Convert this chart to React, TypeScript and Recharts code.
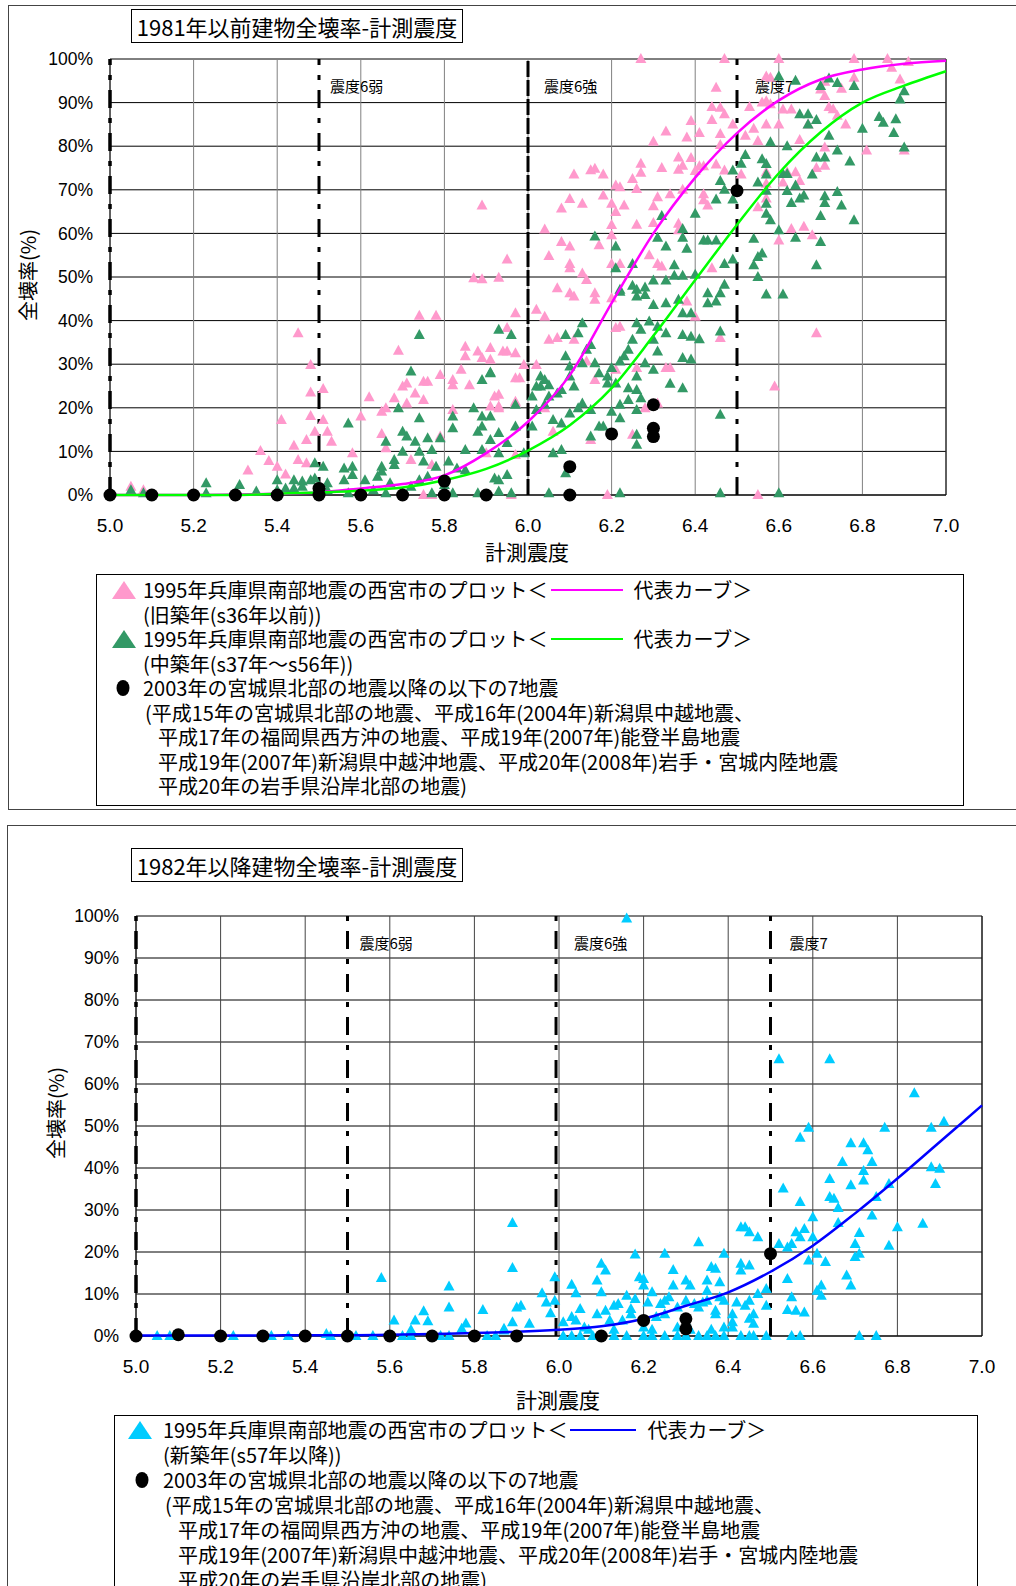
import React from 'react';
import { ScatterChart, Scatter, XAxis, YAxis, CartesianGrid, ReferenceLine } from 'recharts';

type Pt = [number, number];

const xTicks = [5.0, 5.2, 5.4, 5.6, 5.8, 6.0, 6.2, 6.4, 6.6, 6.8, 7.0];
const yTicks = [0, 10, 20, 30, 40, 50, 60, 70, 80, 90, 100];

// 1995 Nishinomiya plots, old buildings (before s36)
const oldPlot: Pt[] = [
  [5.45, 37.1], [5.48, 29.8], [5.48, 23.5], [5.51, 24.3], [5.48, 18.1], [5.51, 17.2], [5.49, 14.5], [5.52, 14.5],
  [5.53, 12.2], [5.47, 12.6], [5.41, 17.2], [5.44, 11.3], [5.45, 8.0], [5.47, 7.3], [5.42, 4.7], [5.36, 10.1],
  [5.38, 7.8], [5.4, 6.5], [5.33, 5.6], [5.58, 9.6], [5.62, 22.4], [5.6, 18.0], [5.65, 14.0], [5.66, 10.7],
  [5.65, 19.1], [5.66, 19.9], [5.69, 33.1], [5.7, 24.9], [5.71, 25.6], [5.68, 22.2], [5.71, 21.0], [5.73, 23.3],
  [5.74, 41.1], [5.78, 41.1], [5.75, 26.0], [5.76, 26.0], [5.79, 27.5], [5.75, 21.8], [5.79, 13.4], [5.82, 26.4],
  [5.82, 25.2], [5.85, 34.0], [5.85, 31.8], [5.86, 25.2], [5.88, 32.9], [5.89, 31.4], [5.91, 33.7], [5.91, 31.0],
  [5.84, 28.7], [5.94, 32.9], [5.95, 38.3], [5.97, 41.7], [5.93, 23.0], [5.91, 20.3], [5.93, 20.3], [5.97, 21.4],
  [5.82, 19.5], [5.05, 1.9], [5.08, 1.1], [5.75, 0], [5.77, 0], [5.96, 0], [5.72, 8.0], [5.9, 9.6], [5.77, 6.9],
  [5.89, 66.4], [5.87, 49.7], [5.89, 49.5], [5.93, 49.8], [5.95, 54.0],
  [6.02, 42.5], [6.04, 40.9], [6.07, 47.4], [6.1, 46.3], [6.11, 45.5], [6.16, 46.3], [6.16, 44.8], [6.2, 45.1],
  [6.21, 38.3], [6.07, 36.0], [6.05, 35.6], [6.11, 35.6], [5.95, 32.9], [5.97, 32.5], [5.99, 29.8], [6.02, 29.8],
  [5.97, 26.8], [5.98, 26.8], [5.92, 22.6], [5.93, 19.9], [5.97, 21.0], [6.04, 19.9], [6.06, 14.5], [6.14, 30.6],
  [6.16, 26.4], [6.21, 28.7], [6.26, 29.1], [6.28, 19.9], [6.31, 21.0], [6.33, 29.1], [6.34, 29.1], [6.25, 13.8],
  [6.15, 12.6], [5.97, 9.2], [6.38, 44.4], [6.4, 40.9], [6.46, 36.0], [6.22, 38.6], [6.69, 37.1], [6.59, 24.9],
  [6.55, 0], [6.19, 0],
  [6.27, 100], [6.47, 100], [6.6, 100], [6.78, 100], [6.86, 100], [6.91, 99.3], [6.87, 98], [6.89, 95.3],
  [6.78, 95.7], [6.71, 94.8], [6.71, 91.5], [6.7, 93], [6.75, 93.2], [6.45, 93.4], [6.57, 96], [6.58, 95.7],
  [6.57, 90.3], [6.56, 90], [6.58, 89.6], [6.53, 89], [6.61, 88.4], [6.63, 88.4], [6.44, 89], [6.46, 88.8],
  [6.47, 87.3], [6.44, 86], [6.49, 85], [6.39, 85.8], [6.72, 89], [6.73, 88.5], [6.74, 87], [6.76, 85],
  [6.57, 85], [6.6, 85], [6.67, 85], [6.41, 83], [6.46, 82.8], [6.54, 84], [6.52, 82.4], [6.33, 83.4],
  [6.38, 82], [6.3, 81], [6.46, 80.3], [6.55, 81.2], [6.65, 81.4], [6.81, 79], [6.71, 79.7], [6.71, 75.5],
  [6.69, 75], [6.36, 77.4], [6.37, 75.5], [6.39, 77.3], [6.27, 76], [6.32, 75], [6.27, 73.9], [6.36, 74.6],
  [6.41, 75.4], [6.42, 75.4], [6.4, 74.3], [6.45, 75.8], [6.51, 73.5], [6.47, 74.4], [6.11, 73.5], [6.15, 74.5],
  [6.16, 74.8], [6.18, 73.5], [6.25, 72.5], [6.21, 71], [6.22, 70.6], [6.26, 70.2], [6.18, 68.7], [6.1, 67.9],
  [6.13, 66.8], [6.08, 65.7], [6.2, 66.8], [6.23, 66.4], [6.21, 64.9], [6.3, 66.2], [6.31, 68.3], [6.34, 69],
  [6.37, 70], [6.42, 69], [6.42, 67.6], [6.43, 66.4], [6.2, 61.9], [6.2, 59.6], [6.26, 62], [6.3, 62.4],
  [6.36, 62.2], [6.36, 60.7], [6.04, 60.9], [6.08, 58], [6.1, 57], [6.17, 57.3], [6.05, 54.8], [6.1, 53],
  [6.1, 52], [6.13, 50.8], [6.14, 49.3], [6.2, 53], [6.22, 53], [6.29, 55], [6.31, 53], [6.32, 52.4],
  [6.44, 52], [6.6, 58.4], [6.63, 61], [6.66, 61.5], [6.68, 59.6], [6.9, 79], [6.57, 74], [6.57, 71.4],
  [6.62, 74], [6.64, 74], [6.65, 72], [6.61, 71.7], [6.55, 66], [6.57, 68],
];

// 1995 Nishinomiya plots, middle-age buildings (s37-s56)
const midPlot: Pt[] = [
  [5.74, 36.7], [5.93, 37.9], [5.96, 36.7], [5.72, 28.3], [5.69, 19.9], [5.74, 17.6], [5.57, 16.4], [5.7, 14.5],
  [5.71, 13.4], [5.66, 12.2], [5.7, 9.9], [5.68, 8.0], [5.68, 6.9], [5.65, 6.5], [5.65, 5.4], [5.64, 4.2],
  [5.56, 6.1], [5.58, 6.5], [5.58, 4.6], [5.56, 3.4], [5.61, 3.4], [5.73, 12.2], [5.76, 13.0], [5.79, 13.0],
  [5.74, 9.9], [5.77, 10.3], [5.75, 7.7], [5.78, 6.5], [5.76, 4.2], [5.74, 3.4], [5.82, 18.0], [5.82, 15.3],
  [5.87, 19.9], [5.89, 18.0], [5.89, 15.7], [5.88, 14.5], [5.91, 18.0], [5.89, 26.4], [5.91, 28.1], [5.81, 7.7],
  [5.83, 6.1], [5.85, 5.7], [5.85, 10.3], [5.89, 10.3], [5.91, 12.6], [5.93, 9.6], [5.93, 14.2], [5.92, 3.8],
  [5.97, 20.7], [5.97, 15.7], [5.95, 11.9], [5.49, 7.3], [5.51, 6.5], [5.49, 3.8], [5.44, 3.4], [5.46, 3.1],
  [5.48, 3.4], [5.46, 1.9], [5.44, 1.5], [5.42, 1.5], [5.4, 3.4], [5.4, 1.1], [5.35, 0.8], [5.31, 2.3],
  [5.23, 2.7], [5.23, 0.4], [5.05, 1.1], [5.08, 0.4], [5.52, 2.7], [5.52, 1.1], [5.66, 0.4], [5.7, 0.4],
  [5.77, 0.4], [5.82, 0.4], [5.88, 0.4], [5.57, 0.4], [5.63, 1.1], [5.67, 2.7], [5.72, 1.9], [5.8, 2.3],
  [6.43, 46.3], [6.43, 44.0], [6.45, 44.4], [6.46, 46.3], [6.47, 48.2], [6.46, 37.5], [6.41, 35.7], [6.39, 36.3],
  [6.37, 36.7], [6.37, 31.4], [6.39, 31.1], [6.34, 25.5], [6.37, 24.5], [6.39, 41.7], [6.37, 41.7], [6.36, 44.8],
  [6.33, 44.0], [6.3, 43.6], [6.28, 45.9], [6.26, 47.1], [6.26, 45.5], [6.22, 47.1], [6.29, 39.8], [6.26, 39.4],
  [6.31, 38.6], [6.33, 37.1], [6.3, 35.6], [6.27, 37.9], [6.25, 35.6], [6.24, 33.3], [6.23, 31.8], [6.22, 30.6],
  [6.2, 29.1], [6.19, 27.2], [6.21, 25.6], [6.19, 25.6], [6.17, 27.9], [6.16, 30.2], [6.13, 30.2], [6.14, 33.3],
  [6.15, 34.4], [6.13, 39.4], [6.12, 37.1], [6.09, 36.7], [6.09, 31.8], [6.1, 29.5], [6.1, 27.2], [6.11, 24.9],
  [6.08, 24.1], [6.07, 23.3], [6.05, 22.6], [6.04, 20.7], [6.05, 25.2], [6.04, 26.4], [6.03, 24.9], [6.03, 27.2],
  [6.02, 24.9], [6.01, 22.6], [6.02, 19.5], [6.01, 15.7], [6.06, 17.2], [6.08, 16.4], [6.1, 18.7], [6.12, 19.9],
  [6.13, 21.0], [6.15, 19.5], [6.17, 15.7], [6.18, 15.7], [6.2, 19.1], [6.22, 17.6], [6.22, 20.7], [6.24, 21.8],
  [6.24, 24.5], [6.26, 24.1], [6.26, 27.2], [6.28, 30.2], [6.31, 32.9], [6.3, 28.7], [6.27, 22.2], [6.26, 19.5],
  [6.26, 13.8], [6.26, 11.5], [6.15, 13.4], [6.08, 10.3], [6.06, 9.6], [5.99, 9.6], [5.93, 3.4], [5.95, 4.6],
  [5.93, 0.8], [5.96, 0.4], [6.05, 0.4], [6.22, 0.4], [6.46, 0.4], [6.6, 0.4], [6.09, 5.0], [6.46, 18.4],
  [5.91, 27.9],
  [6.6, 96], [6.64, 95], [6.72, 95.5], [6.74, 94.5], [6.78, 93.8], [6.7, 93.8], [6.9, 92.6], [6.89, 90.7],
  [6.65, 87.3], [6.67, 87.3], [6.69, 86], [6.67, 85], [6.84, 86.7], [6.85, 85.4], [6.88, 86.2], [6.8, 84],
  [6.875, 83], [6.72, 82.4], [6.58, 80.9], [6.62, 80], [6.74, 79], [6.9, 79.7], [6.52, 78], [6.56, 77],
  [6.57, 75.9], [6.69, 77.4], [6.71, 77.4], [6.77, 76.5], [6.51, 76], [6.49, 74.4], [6.57, 73.5], [6.61, 73.6],
  [6.62, 73.6], [6.68, 73.5], [6.46, 72], [6.55, 71.7], [6.47, 70], [6.49, 67.8], [6.45, 67.8], [6.57, 69.8],
  [6.62, 69.7], [6.64, 71], [6.63, 67], [6.65, 68], [6.66, 68.7], [6.71, 68.5], [6.74, 69.5], [6.71, 67],
  [6.75, 66.4], [6.7, 64], [6.78, 63], [6.57, 66.8], [6.57, 64.5], [6.58, 63], [6.32, 64], [6.4, 64.5],
  [6.37, 61], [6.37, 59], [6.31, 59], [6.33, 57], [6.38, 56.5], [6.42, 58.4], [6.43, 58.4], [6.45, 58.4],
  [6.6, 60.7], [6.64, 59], [6.7, 58], [6.54, 58.8], [6.16, 59.3], [6.21, 57], [6.25, 53], [6.35, 52.7],
  [6.47, 53], [6.49, 54], [6.54, 52.7], [6.55, 54.6], [6.56, 55.4], [6.69, 52.7], [6.55, 50], [6.57, 46],
  [6.61, 46], [6.21, 52], [6.22, 46.6], [6.25, 48], [6.28, 47.6], [6.3, 49.2], [6.33, 49.2], [6.35, 50.3],
  [6.37, 50.3], [6.4, 50.5],
];

// 1995 Nishinomiya plots, new buildings (s57 onward)
const newPlot: Pt[] = [
  [5.58, 13.8], [5.61, 3.7], [5.74, 6.8], [5.74, 11.8], [5.82, 6.2], [5.89, 26.9], [5.89, 16.2], [5.68, 5.9],
  [5.66, 3.7], [5.69, 3.5], [5.65, 1.4], [5.77, 1.7], [5.78, 3.0], [5.87, 1.7], [5.89, 3.3], [5.9, 6.8],
  [5.05, 0], [5.08, 0], [5.23, 0], [5.32, 0], [5.36, 0], [5.45, 0.5], [5.46, 0], [5.52, 0], [5.56, 0],
  [5.63, 0], [5.65, 0], [5.72, 0], [5.74, 0], [5.83, 0], [5.85, 0],
  [5.91, 7.2], [5.93, 2.9], [5.87, 1.3], [5.99, 14.0], [5.99, 8.4], [5.96, 10.2], [5.97, 8.0], [5.98, 5.4],
  [6.03, 12.2], [6.04, 10.2], [6.05, 6.4], [6.03, 4.5], [6.01, 3.3], [6.04, 3.7], [6.09, 13.2], [6.1, 17.2],
  [6.11, 15.6], [6.1, 10.4], [6.09, 5.2], [6.11, 6.0], [6.13, 7.2], [6.14, 7.6], [6.12, 3.7], [6.18, 19.4],
  [6.19, 14.0], [6.2, 13.6], [6.18, 8.8], [6.2, 12.0], [6.21, 8.0], [6.22, 10.4], [6.16, 9.6], [6.17, 6.4],
  [6.15, 3.7], [6.17, 5.2], [6.25, 19.6], [6.27, 15.7], [6.27, 12.0], [6.26, 9.2], [6.25, 8.4], [6.24, 7.6],
  [6.23, 4.5], [6.25, 5.2], [6.28, 6.8], [6.3, 13.2], [6.31, 12.0], [6.3, 8.4], [6.32, 7.6], [6.33, 22.3],
  [6.35, 13.2], [6.35, 10.8], [6.36, 16.4], [6.37, 16.0], [6.38, 12.8], [6.39, 19.6], [6.38, 9.2], [6.39, 8.4],
  [6.37, 6.0], [6.37, 5.2], [6.35, 8.4], [6.34, 8.0], [6.33, 6.8], [6.41, 5.2], [6.41, 3.3], [6.42, 8.0],
  [6.44, 7.2], [6.45, 8.4], [6.46, 5.2], [6.46, 2.9], [6.45, 4.1], [6.43, 17.2], [6.45, 16.8], [6.43, 15.6],
  [6.47, 10.0], [6.43, 25.9], [6.44, 25.9], [6.45, 24.7], [6.47, 23.5], [6.49, 11.2], [6.49, 7.2], [6.52, 21.9],
  [6.54, 13.6], [6.54, 21.1], [6.55, 21.9], [6.56, 24.7], [6.57, 23.5], [6.58, 25.5], [6.6, 28.3], [6.6, 23.5],
  [6.53, 35.1], [6.57, 47.2], [6.59, 49.6], [6.57, 31.9], [6.59, 18.0], [6.61, 19.6], [6.63, 17.6], [6.55, 9.2],
  [6.54, 6.2], [6.56, 6.0], [6.58, 5.6], [6.61, 10.8], [6.62, 12.0], [6.62, 9.6], [6.64, 37.4], [6.64, 33.1],
  [6.65, 32.7], [6.66, 30.5], [6.66, 26.9], [6.67, 41.4], [6.69, 35.9], [6.69, 45.9], [6.72, 45.9], [6.73, 44.2],
  [6.74, 41.4], [6.72, 39.3], [6.72, 37.0], [6.74, 28.7], [6.71, 24.5], [6.7, 21.9], [6.71, 19.6], [6.7, 18.8],
  [6.68, 14.4], [6.69, 12.0], [6.75, 33.1], [6.77, 49.6], [6.78, 36.2], [6.78, 21.5], [6.8, 25.9], [6.86, 26.7],
  [6.88, 40.2], [6.9, 39.8], [6.89, 36.2], [6.88, 49.6], [6.91, 51.0], [6.71, 0], [6.75, 0],
  [6.01, 0], [6.03, 0], [6.05, 0], [6.08, 0], [6.13, 0], [6.16, 0], [6.2, 0], [6.22, 0], [6.25, 0], [6.28, 0],
  [6.3, 0], [6.33, 0], [6.35, 0], [6.37, 0], [6.39, 0], [6.43, 0], [6.45, 0], [6.46, 0], [6.49, 0], [6.55, 0],
  [6.57, 0],
  [6.06, 2], [6.07, 1.5], [6.13, 1.5], [6.2, 2], [6.22, 1.5], [6.28, 2], [6.31, 1.5], [6.36, 1.5], [6.39, 2],
  [6.41, 2],
  [6.52, 65.9], [6.64, 65.9], [6.84, 57.8], [6.16, 99.4],
];

// 7 earthquakes since 2003
const recentOld: Pt[] = [
  [5.0, 0], [5.1, 0], [5.2, 0], [5.3, 0], [5.4, 0], [5.5, 0], [5.5, 1.5], [5.6, 0], [5.7, 0], [5.8, 0],
  [5.8, 3.2], [5.9, 0], [6.1, 0], [6.1, 6.5], [6.2, 14], [6.3, 13.4], [6.3, 15.3], [6.3, 20.7], [6.5, 69.8],
];
const recentNew: Pt[] = [
  [5.0, 0], [5.1, 0.3], [5.2, 0], [5.3, 0], [5.4, 0], [5.5, 0], [5.6, 0], [5.7, 0], [5.8, 0], [5.9, 0],
  [6.1, 0], [6.2, 3.7], [6.3, 4.1], [6.3, 1.7], [6.5, 19.6],
];

// representative curves
const oldCurve: Pt[] = [
  [5.0, 0], [5.1, 0], [5.2, 0], [5.3, 0.1], [5.4, 0.3], [5.5, 0.6], [5.6, 1.5], [5.7, 2.5], [5.8, 4.5],
  [5.9, 9.6], [6.0, 16.8], [6.1, 27.5], [6.2, 44], [6.3, 60], [6.4, 72.8], [6.5, 83], [6.6, 90.5],
  [6.7, 95.3], [6.8, 97.6], [6.9, 98.9], [7.0, 99.6],
];
const midCurve: Pt[] = [
  [5.0, 0], [5.1, 0], [5.2, 0], [5.3, 0], [5.4, 0.3], [5.5, 0.6], [5.6, 1], [5.7, 1.7], [5.8, 3.4],
  [5.9, 6], [6.0, 10.2], [6.1, 16], [6.2, 24.5], [6.3, 36.5], [6.4, 49.3], [6.5, 62], [6.6, 73.8],
  [6.7, 83.2], [6.8, 90], [6.9, 93.9], [7.0, 97.2],
];
const newCurve: Pt[] = [
  [5.0, 0.1], [5.1, 0.1], [5.2, 0.1], [5.3, 0.1], [5.4, 0.2], [5.5, 0.2], [5.6, 0.3], [5.7, 0.5], [5.8, 0.7],
  [5.9, 1.0], [6.0, 1.5], [6.1, 2.3], [6.2, 4.1], [6.3, 7.2], [6.4, 10.4], [6.5, 15.3], [6.6, 21.5],
  [6.7, 29.2], [6.8, 37.5], [6.9, 46.2], [7.0, 54.9],
];

const rows = (pts: Pt[]) => pts.map(([x, y]) => ({ x, y }));

const JP = '"Noto Sans CJK JP", sans-serif';
const LAT = '"Liberation Sans", Arial, sans-serif';
const DASH_DOT = '18 10 5 10';

const PINK = '#FF99CC';
const GREEN = '#339966';
const CYAN = '#00CCFF';

const tri = (fill: string) => (p: any) => (
  <polygon
    points={`${p.cx},${p.cy - 6} ${p.cx - 5.5},${p.cy + 4} ${p.cx + 5.5},${p.cy + 4}`}
    fill={fill}
  />
);
const dot = (p: any) => <circle cx={p.cx} cy={p.cy} r={6.5} fill="#000" />;
const noMark = () => <g />;

const zoneLabel = (text: string, dx: number) => (p: any) => (
  <text x={p.viewBox.x + dx} y={p.viewBox.y + 33} fontSize={15} fontFamily={JP} fill="#000">
    {text}
  </text>
);

type ChartProps = {
  top: number;
  height: number;
  plotTop: number;
  plotLeft: number;
  plotRight: number;
  plotBottom: number;
  vGrid: string;
  mid6: { x: number; dash: string };
  dx: [number, number, number];
  children: React.ReactNode;
};

const QuakeChart = ({ top, height, plotTop, plotLeft, plotRight, plotBottom, vGrid, mid6, dx, children }: ChartProps) => (
  <div style={{ position: 'absolute', left: 0, top }}>
    <ScatterChart
      width={1016}
      height={height}
      margin={{ top: plotTop, right: 1016 - plotRight, bottom: 0, left: 0 }}
    >
      <CartesianGrid vertical={false} stroke="#000" />
      <CartesianGrid horizontal={false} stroke={vGrid} />
      <XAxis
        type="number"
        dataKey="x"
        domain={[5, 7]}
        ticks={xTicks}
        interval={0}
        height={height - plotBottom}
        tickFormatter={(v: number) => v.toFixed(1)}
        tickLine={false}
        tickSize={8}
        tickMargin={16}
        axisLine={{ stroke: '#000' }}
        tick={{ fontSize: 19, fill: '#000', fontFamily: LAT }}
      />
      <YAxis
        type="number"
        dataKey="y"
        domain={[0, 100]}
        ticks={yTicks}
        interval={0}
        width={plotLeft}
        tickFormatter={(v: number) => `${v}%`}
        tickLine={false}
        tickSize={8}
        tickMargin={9}
        axisLine={{ stroke: '#000' }}
        tick={{ fontSize: 17.5, fill: '#000', fontFamily: LAT }}
      />
      <ReferenceLine x={7} stroke="#000" />
      <ReferenceLine x={5} stroke="#000" strokeWidth={3.5} strokeDasharray={DASH_DOT} />
      <ReferenceLine x={5.5} stroke="#000" strokeWidth={3} strokeDasharray={DASH_DOT} label={zoneLabel('震度6弱', dx[0])} />
      <ReferenceLine x={mid6.x} stroke="#000" strokeWidth={3} strokeDasharray={mid6.dash} label={zoneLabel('震度6強', dx[1])} />
      <ReferenceLine x={6.5} stroke="#000" strokeWidth={3} strokeDasharray={DASH_DOT} label={zoneLabel('震度7', dx[2])} />
      {children}
    </ScatterChart>
  </div>
);

const Row = ({ y, x, children }: { y: number; x: number; children: React.ReactNode }) => (
  <div
    style={{
      position: 'absolute', left: x, top: y - 12, height: 24, lineHeight: '24px', fontSize: 20,
      whiteSpace: 'nowrap', display: 'flex', alignItems: 'center', fontFamily: JP, color: '#000',
    }}
  >
    {children}
  </div>
);

const TriIcon = ({ x, y, fill }: { x: number; y: number; fill: string }) => (
  <svg style={{ position: 'absolute', left: x, top: y - 9 }} width={24} height={18}>
    <polygon points="12,0 0,18 24,18" fill={fill} />
  </svg>
);
const DotIcon = ({ x, y }: { x: number; y: number }) => (
  <svg style={{ position: 'absolute', left: x, top: y - 8 }} width={14} height={16}>
    <ellipse cx={7} cy={8} rx={6.5} ry={8} fill="#000" />
  </svg>
);
const Bar = ({ color, w, ml, mr }: { color: string; w: number; ml: number; mr: number }) => (
  <span style={{ display: 'inline-block', width: w, height: 2.5, background: color, marginLeft: ml, marginRight: mr }} />
);

const TitleBox = ({ top, text }: { top: number; text: string }) => (
  <div
    style={{
      position: 'absolute', left: 131, top, width: 332, height: 34, boxSizing: 'border-box',
      border: '1px solid #000', fontFamily: JP, fontSize: 22, lineHeight: '32px', textAlign: 'center',
      background: '#fff', color: '#000', whiteSpace: 'nowrap',
    }}
  >
    {text}
  </div>
);

const XTitle = ({ cx, cy }: { cx: number; cy: number }) => (
  <div style={{ position: 'absolute', left: cx - 60, top: cy - 13, width: 120, height: 26, lineHeight: '26px', textAlign: 'center', fontFamily: JP, fontSize: 21 }}>
    計測震度
  </div>
);
const YTitle = ({ cx, cy }: { cx: number; cy: number }) => (
  <div
    style={{
      position: 'absolute', left: cx - 60, top: cy - 13, width: 120, height: 26, lineHeight: '26px',
      textAlign: 'center', fontFamily: JP, fontSize: 20, transform: 'rotate(-90deg)',
    }}
  >
    全壊率(%)
  </div>
);

const eqLines = [
  '(平成15年の宮城県北部の地震、平成16年(2004年)新潟県中越地震、',
  '平成17年の福岡県西方沖の地震、平成19年(2007年)能登半島地震',
  '平成19年(2007年)新潟県中越沖地震、平成20年(2008年)岩手・宮城内陸地震',
  '平成20年の岩手県沿岸北部の地震)',
];
const plotLabel = '1995年兵庫県南部地震の西宮市のプロット＜';
const recentLabel = '2003年の宮城県北部の地震以降の以下の7地震';

export default function App() {
  const L1 = [590, 614.5, 639, 663.5, 688, 712.5, 737, 761.5, 786];
  const L2 = [1430, 1455, 1480, 1505, 1530, 1555, 1580];
  return (
    <div style={{ position: 'absolute', left: 0, top: 0, width: 1016, height: 1586, background: '#fff', overflow: 'hidden', fontFamily: JP }}>
      {/* frames */}
      <div style={{ position: 'absolute', left: 8, top: 5, width: 1100, height: 803, border: '1px solid #444' }} />
      <div style={{ position: 'absolute', left: 7, top: 825, width: 1100, height: 900, border: '1px solid #444' }} />

      {/* chart 1: before 1981 */}
      <QuakeChart
        top={0}
        height={560}
        plotTop={59}
        plotLeft={110}
        plotRight={946}
        plotBottom={495}
        vGrid="#808080"
        mid6={{ x: 6.0, dash: '16 3' }}
        dx={[11, 16, 18]}
      >
        <Scatter data={rows(oldPlot)} shape={tri(PINK)} isAnimationActive={false} />
        <Scatter data={rows(midPlot)} shape={tri(GREEN)} isAnimationActive={false} />
        <Scatter data={rows(oldCurve)} shape={noMark} line={{ stroke: '#FF00FF', strokeWidth: 2.5 }} lineJointType="monotoneX" isAnimationActive={false} />
        <Scatter data={rows(midCurve)} shape={noMark} line={{ stroke: '#00FF00', strokeWidth: 2.5 }} lineJointType="monotoneX" isAnimationActive={false} />
        <Scatter data={rows(recentOld)} shape={dot} isAnimationActive={false} />
      </QuakeChart>
      <TitleBox top={9} text="1981年以前建物全壊率-計測震度" />
      <XTitle cx={527} cy={551} />
      <YTitle cx={28} cy={275} />

      <div style={{ position: 'absolute', left: 96, top: 574, width: 868, height: 232, boxSizing: 'border-box', border: '1px solid #000' }} />
      <TriIcon x={112} y={L1[0]} fill={PINK} />
      <Row x={143} y={L1[0]}>
        <span>{plotLabel}</span>
        <Bar color="#FF00FF" w={72} ml={4} mr={10} />
        <span>代表カーブ＞</span>
      </Row>
      <Row x={143} y={L1[1]}>(旧築年(s36年以前))</Row>
      <TriIcon x={112} y={L1[2]} fill={GREEN} />
      <Row x={143} y={L1[2]}>
        <span>{plotLabel}</span>
        <Bar color="#00FF00" w={72} ml={4} mr={10} />
        <span>代表カーブ＞</span>
      </Row>
      <Row x={143} y={L1[3]}>(中築年(s37年～s56年))</Row>
      <DotIcon x={116} y={L1[4]} />
      <Row x={143} y={L1[4]}>{recentLabel}</Row>
      {eqLines.map((t, i) => (
        <Row key={t} x={i === 0 ? 145 : 158} y={L1[5 + i]}>{t}</Row>
      ))}

      {/* chart 2: after 1982 */}
      <QuakeChart
        top={825}
        height={575}
        plotTop={91}
        plotLeft={136}
        plotRight={982}
        plotBottom={511}
        vGrid="#444"
        mid6={{ x: 5.993, dash: DASH_DOT }}
        dx={[12, 18, 19]}
      >
        <Scatter data={rows(newPlot)} shape={tri(CYAN)} isAnimationActive={false} />
        <Scatter data={rows(newCurve)} shape={noMark} line={{ stroke: '#0000FF', strokeWidth: 2.5 }} lineJointType="monotoneX" isAnimationActive={false} />
        <Scatter data={rows(recentNew)} shape={dot} isAnimationActive={false} />
      </QuakeChart>
      <TitleBox top={848} text="1982年以降建物全壊率-計測震度" />
      <XTitle cx={558} cy={1399} />
      <YTitle cx={56} cy={1113} />

      <div style={{ position: 'absolute', left: 114, top: 1415, width: 864, height: 220, boxSizing: 'border-box', border: '1px solid #000' }} />
      <TriIcon x={128} y={L2[0]} fill={CYAN} />
      <Row x={163} y={L2[0]}>
        <span>{plotLabel}</span>
        <Bar color="#0000FF" w={66} ml={3} mr={11} />
        <span>代表カーブ＞</span>
      </Row>
      <Row x={163} y={L2[1]}>(新築年(s57年以降))</Row>
      <DotIcon x={135} y={L2[2]} />
      <Row x={163} y={L2[2]}>{recentLabel}</Row>
      {eqLines.map((t, i) => (
        <Row key={t} x={i === 0 ? 165 : 178} y={L2[3 + i]}>{t}</Row>
      ))}
    </div>
  );
}
